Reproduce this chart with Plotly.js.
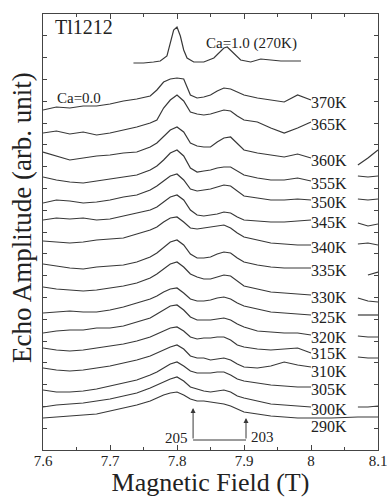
<!DOCTYPE html>
<html><head><meta charset="utf-8">
<script src="https://cdn.plot.ly/plotly-3.0.1.min.js"></script>
<style>html,body{margin:0;padding:0;background:#fff}#chart{width:387px;height:497px}</style>
</head><body><div id="chart"></div>
<script>
// Magnetic field grid (T)
const field = [7.60,7.62,7.64,7.66,7.68,7.70,7.72,7.74,7.76,7.77,7.78,7.79,7.80,7.81,7.82,7.83,7.84,7.85,7.86,7.87,7.88,7.89,7.90,7.92,7.94,7.96,7.98,8.00,8.03,8.07,8.085,8.10];
const temps = ['370K','365K','360K','355K','350K','345K','340K','335K','330K','325K','320K','315K','310K','305K','300K','290K'];
// Echo amplitude (arb. unit, vertically offset spectra)
const amp370 = [340,343,342,344,344,346,349,351,354,360,368,371,372,371,355,352,353,355,359,362,361,358,355,352,350,348,355,350,null,null,null,null];
const amp365 = [317,319,316,318,315,317,320,323,327,330,342,350,355,349,338,336,335,336,338,340,339,334,330,328,322,317,322,328,null,null,null,null];
const amp360 = [298,294,290,292,294,295,297,298,303,307,313,320,323,318,307,304,303,303,308,312,313,307,300,297,295,293,296,292,null,285,292,300];
const amp355 = [273,270,268,267,269,271,273,275,280,284,290,297,300,294,282,278,279,280,282,283,283,279,275,272,270,270,272,269,null,274,273,274];
const amp350 = [247,250,249,247,248,250,253,255,260,264,269,274,276,270,261,259,260,261,263,265,264,259,254,252,250,250,251,250,null,251,250,251];
const amp345 = [230,232,231,232,230,231,234,237,240,243,248,253,255,250,240,235,234,235,236,238,237,233,230,229,228,228,229,230,null,227,224,226];
const amp340 = [209,208,207,208,210,211,212,216,220,223,228,232,233,228,222,221,222,223,224,225,222,217,213,210,207,206,205,205,null,206,207,205];
const amp335 = [186,184,182,181,183,184,185,188,193,197,203,208,210,205,196,192,192,193,196,198,197,192,188,185,183,182,182,182,null,null,175,178];
const amp330 = [163,161,160,159,160,162,164,167,172,176,181,186,188,183,176,173,171,171,173,175,174,169,164,161,158,157,156,155,null,152,149,148];
const amp325 = [137,138,139,138,138,140,143,147,151,154,158,161,162,157,151,149,149,150,152,153,151,147,144,141,138,137,136,135,null,135,135,135];
const amp320 = [117,119,120,120,122,122,124,128,132,136,140,144,145,140,133,130,130,130,131,132,130,126,123,119,118,117,117,115,null,114,113,113];
const amp315 = [102,100,99,100,102,104,106,109,113,116,119,122,123,119,113,111,112,112,113,113,110,105,103,101,100,101,102,97,null,93,92,92];
const amp310 = [82,80,79,80,82,84,87,90,94,97,100,103,105,101,94,92,92,90,91,92,90,86,83,82,84,88,85,83,null,null,null,null];
const amp305 = [60,58,58,59,61,64,67,70,75,78,82,86,88,84,79,77,77,77,78,78,75,71,69,67,65,64,63,63,null,null,null,null];
const amp300 = [43,45,46,47,49,51,54,57,62,65,68,71,73,69,63,61,59,58,59,60,58,54,52,49,46,45,44,43,null,43,43,44];
const amp290 = [32,33,34,35,36,39,42,45,49,52,55,57,58,55,51,49,49,48,47,46,44,41,38,36,34,33,32,32,32,33,33,33];
// Ca=1.0 reference spectrum (270K)
const caField = [7.735,7.75,7.765,7.775,7.785,7.79,7.795,7.80,7.805,7.81,7.815,7.825,7.84,7.855,7.865,7.87,7.875,7.885,7.895,7.91,7.925,7.94,7.955,7.97,7.985];
const caAmp = [387,387,388,389,394,406,420,423,414,400,392,388,388,392,398,402,403,397,390,388,391,390,389,389,389];
// Site markers
const siteField = [7.824, 7.903];
const siteLabel = ['205', '203'];

const spectra = [amp370,amp365,amp360,amp355,amp350,amp345,amp340,amp335,amp330,amp325,amp320,amp315,amp310,amp305,amp300,amp290];
const serif = 'Liberation Serif, Times New Roman, serif';
const ink = '#383838';

const traces = spectra.map((y,i)=>({
  x: field, y: y, type:'scatter', mode:'lines', name: temps[i],
  connectgaps:false, line:{color:ink, width:1.2}, hoverinfo:'skip'
}));
traces.push({x:caField, y:caAmp, type:'scatter', mode:'lines', name:'Ca=1.0 (270K)', line:{color:ink,width:1.2}});

function labelShift(t){
  if (t==='290K') return -8;
  if (t==='310K') return -4;
  if (t==='315K') return 0;
  return -2;
}
const annotations = spectra.map((y,i)=>({
  x: 8.0, y: y[27], xref:'x', yref:'y', text: temps[i], showarrow:false,
  xanchor:'left', xshift:-2, yshift: labelShift(temps[i]),
  font:{family:serif, size:16, color:'#222'}
}));
annotations.push(
  {x:7.615, y:423, xref:'x', yref:'y', text:'Tl1212', showarrow:false, xanchor:'left', font:{family:serif,size:20,color:'#222'}},
  {x:7.840, y:407, xref:'x', yref:'y', text:'Ca=1.0 (270K)', showarrow:false, xanchor:'left', font:{family:serif,size:15,color:'#222'}},
  {x:7.618, y:352, xref:'x', yref:'y', text:'Ca=0.0', showarrow:false, xanchor:'left', font:{family:serif,size:15,color:'#222'}},
  {x:siteField[0], y:42, ax:siteField[0], ay:10, xref:'x', yref:'y', axref:'x', ayref:'y', showarrow:true, arrowhead:2, arrowsize:1, arrowwidth:1, arrowcolor:ink, text:''},
  {x:siteField[1], y:32, ax:siteField[1], ay:10, xref:'x', yref:'y', axref:'x', ayref:'y', showarrow:true, arrowhead:2, arrowsize:1, arrowwidth:1, arrowcolor:ink, text:''},
  {x:siteField[0], y:12, xref:'x', yref:'y', text:siteLabel[0], showarrow:false, xanchor:'right', xshift:-3, font:{family:serif,size:15,color:'#222'}},
  {x:siteField[1], y:13, xref:'x', yref:'y', text:siteLabel[1], showarrow:false, xanchor:'left', xshift:3, font:{family:serif,size:15,color:'#222'}},
  {x:-0.063, y:0.534, xref:'paper', yref:'paper', xanchor:'center', yanchor:'middle', text:'Echo Amplitude (arb. unit)', showarrow:false, textangle:-90, font:{family:serif,size:27,color:'#222'}}
);

const layout = {
  width:387, height:497,
  margin:{l:43, r:9, t:14, b:47},
  paper_bgcolor:'#fff', plot_bgcolor:'#fff',
  showlegend:false,
  xaxis:{range:[7.6,8.1], tick0:7.6, dtick:0.1, ticks:'inside', ticklen:5, tickcolor:'#444',
    showline:true, linecolor:'#444', linewidth:1, mirror:'ticks', showgrid:false, zeroline:false,
    ticklabeloverflow:'allow', ticklabelstandoff:-3,
    tickfont:{family:serif,size:15,color:'#222'},
    minor:{dtick:0.05, ticks:'inside', ticklen:3, tickcolor:'#444'},
    title:{text:'Magnetic Field (T)', font:{family:serif,size:26,color:'#222'}, standoff:5}},
  yaxis:{range:[0,436], dtick:21.8, ticks:'inside', ticklen:4, tickcolor:'#444', showticklabels:false,
    showline:true, linecolor:'#444', linewidth:1, mirror:'ticks', showgrid:false, zeroline:false},
  shapes:[{type:'line', xref:'x', yref:'y', x0:siteField[0], x1:siteField[1], y0:10, y1:10, line:{color:ink,width:1}}],
  annotations: annotations
};
Plotly.newPlot('chart', traces, layout, {displayModeBar:false, staticPlot:true});
</script></body></html>
